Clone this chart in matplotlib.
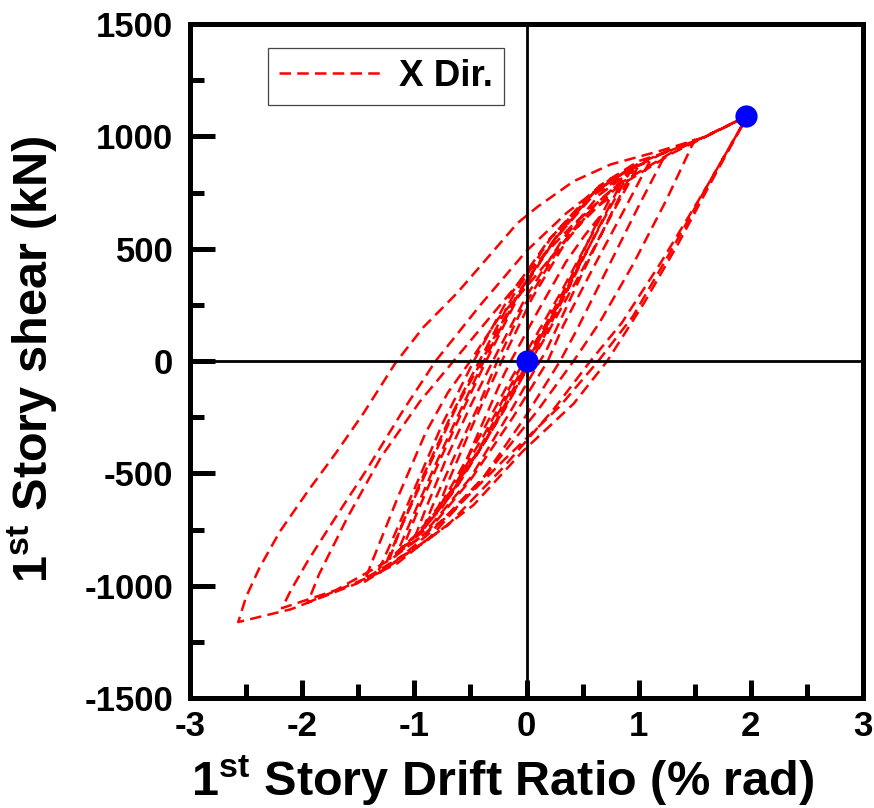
import matplotlib
matplotlib.use('Agg')
import matplotlib.pyplot as plt
from matplotlib.ticker import MultipleLocator

# ---------------- data ----------------
# small, narrow loops around the origin (drift in % rad, shear in kN)
drift_band = [0.0, 0.18, 0.35, 0.5,
              0.38, 0.2, 0.0, -0.2, -0.42, -0.6,
              -0.5, -0.35, -0.2, -0.14, 0.1, 0.35, 0.52, 0.65,
              0.5, 0.28, 0.0, -0.12, -0.38, -0.66, -0.9,
              -0.8, -0.62, -0.42, -0.26, -0.05, 0.25, 0.5, 0.75,
              0.58, 0.3, 0.0, -0.15, -0.4, -0.65, -0.8,
              -0.7, -0.52, -0.35, -0.22, 0.05, 0.35, 0.62, 0.85,
              0.66, 0.38, 0.05, -0.12, -0.42, -0.75, -1.0,
              -0.9, -0.72, -0.5, -0.3, 0.0, 0.32, 0.65, 0.95,
              0.75, 0.45, 0.17, 0.12, -0.15, -0.5, -0.85, -1.1,
              -0.98, -0.78, -0.55, -0.36, -0.08, 0.25, 0.6, 0.9, 1.1,
              0.9, 0.6, 0.33, 0.19, -0.12, -0.5, -0.9, -1.24,
              -1.1, -0.88, -0.62, -0.4, -0.1, 0.25, 0.6, 0.92,
              0.72, 0.42, 0.1, -0.08, -0.35, -0.68, -1.0, -1.22,
              -1.12, -0.92, -0.68, -0.42, -0.12, 0.22, 0.58, 0.8, 1.0,
              0.8, 0.48, 0.15, -0.05, -0.3, -0.62, -0.92, -1.15,
              -1.03, -0.82, -0.58, -0.38, -0.05, 0.3, 0.65, 1.0, 1.25,
              1.0, 0.7, 0.45, 0.3, 0.0, -0.4, -0.85, -1.15, -1.33]
shear_band = [0, 170, 330, 460,
              330, 150, -40, -220, -400, -520,
              -400, -230, -60, 0, 220, 440, 560, 640,
              480, 250, 20, -90, -330, -570, -720,
              -600, -400, -190, 0, 220, 470, 640, 730,
              560, 300, 40, -90, -320, -540, -670,
              -540, -330, -140, 0, 280, 530, 700, 800,
              610, 330, 40, -110, -390, -650, -790,
              -660, -440, -200, 0, 290, 540, 740, 850,
              650, 340, 40, 0, -230, -520, -730, -830,
              -680, -450, -200, 0, 280, 540, 750, 850, 890,
              700, 420, 160, 0, -250, -530, -770, -885,
              -720, -480, -200, 0, 280, 540, 740, 840,
              660, 380, 80, -90, -340, -600, -780, -880,
              -740, -510, -250, 0, 290, 550, 750, 820, 870,
              690, 390, 90, -80, -300, -560, -750, -850,
              -710, -470, -210, 0, 320, 580, 780, 890, 930,
              690, 390, 140, 0, -240, -530, -780, -900, -945]

# medium loops
drift_mid = [-1.2, -1.0, -0.75, -0.47, -0.15, 0.2, 0.6, 1.0, 1.5,
             1.25, 0.95, 0.65, 0.42, 0.1, -0.35, -0.85, -1.2, -1.45,
             -1.35, -1.15, -0.9, -0.7, -0.5, -0.25, 0.0, 0.4, 0.8, 1.3, 1.97,
             1.6, 1.2, 0.85, 0.57, 0.25, -0.2, -0.7, -1.3, -1.95,
             -1.85, -1.6, -1.3, -0.95, -0.65, -0.3, 0.0, 0.4, 0.8, 1.3, 1.97]
shear_mid = [-800, -570, -280, 0, 290, 540, 750, 880, 985,
             720, 430, 170, 0, -220, -500, -760, -905, -985,
             -860, -610, -320, -140, 0, 190, 330, 570, 770, 925, 1090,
             770, 440, 170, 0, -210, -470, -730, -940, -1075,
             -950, -700, -430, -180, 0, 210, 390, 600, 780, 930, 1090]

# largest loops
drift_outer = [1.65, 1.35, 1.05, 0.72, 0.42, -0.03, -0.47, -0.92, -1.51, -2.1, -2.57,
               -2.5, -2.38, -2.2, -1.95, -1.7, -1.45, -1.17, -0.92, -0.62, -0.35, -0.08,
               0.1, 0.42, 0.75, 1.19, 1.58, 1.97,
               1.6, 1.3, 0.95, 0.64, 0.3, -0.2, -0.7, -1.2, -1.7, -2.18,
               -2.1, -1.95, -1.72, -1.42, -1.1, -0.81, -0.41, 0.0, 0.36, 0.75, 1.2, 1.6, 1.97]
shear_outer = [800, 520, 260, 0, -190, -400, -640, -811, -990, -1105, -1162,
               -1050, -920, -760, -580, -410, -230, -10, 150, 302, 458, 614,
               687, 800, 875, 935, 995, 1092,
               770, 500, 200, 0, -200, -440, -690, -880, -1020, -1100,
               -1020, -890, -710, -480, -220, 0, 250, 490, 660, 810, 920, 1000, 1090]

# highlighted points
dot_drift = [0.0, 1.96]
dot_shear = [0, 1090]

x_ticks = [-3, -2, -1, 0, 1, 2, 3]
y_ticks = [-1500, -1000, -500, 0, 500, 1000, 1500]

# ---------------- style ----------------
plt.rcParams['font.family'] = ['Liberation Sans', 'DejaVu Sans']
plt.rcParams['font.weight'] = 'bold'
plt.rcParams['axes.unicode_minus'] = False
plt.rcParams['mathtext.fontset'] = 'custom'
plt.rcParams['mathtext.bf'] = 'Liberation Sans:bold'
plt.rcParams['mathtext.rm'] = 'Liberation Sans:bold'

fig = plt.figure(figsize=(8.74, 8.08), dpi=100)
ax = fig.add_axes([190 / 874, 1 - 698 / 808, 673 / 874, 674 / 808])

drift = drift_band + drift_mid + drift_outer
shear = shear_band + shear_mid + shear_outer
ax.plot(drift, shear, color='red', lw=1.8, linestyle=(0, (4.6, 2.5)),
        label='X Dir.', zorder=2)

ax.axhline(0, color='black', lw=2, zorder=3)
ax.axvline(0, color='black', lw=2, zorder=3)

ax.plot(dot_drift, dot_shear, 'o', color='#0000FF', markersize=16,
        markeredgewidth=0, zorder=5)

ax.set_xlim(-3, 3)
ax.set_ylim(-1500, 1500)
ax.set_xticks(x_ticks)
ax.set_yticks(y_ticks)
ax.xaxis.set_minor_locator(MultipleLocator(0.5))
ax.yaxis.set_minor_locator(MultipleLocator(250))

for s in ax.spines.values():
    s.set_linewidth(3.6)

ax.tick_params(which='both', direction='in', top=False, right=False,
               width=3.6, colors='black')
ax.tick_params(axis='x', which='major', length=13, pad=9, labelsize=25)
ax.tick_params(axis='x', which='minor', length=10)
ax.tick_params(axis='y', which='major', length=18, pad=12, labelsize=25)
ax.tick_params(axis='y', which='minor', length=10)

leg = ax.legend(loc='upper left', bbox_to_anchor=((268 - 190) / 673, (698 - 48) / 674),
                borderaxespad=0, fontsize=26.5, handlelength=2.85,
                handletextpad=0.4, borderpad=0.3, fancybox=False,
                framealpha=1, edgecolor='#444444')
leg.get_frame().set_linewidth(0.9)

fig.text(503 / 874, 1 - 796 / 808, r'$\mathbf{1^{st}}$ Story Drift Ratio (% rad)',
         fontsize=35, ha='center', va='baseline', fontweight='bold')
fig.text(33 / 874, 1 - 359 / 808, r'$\mathbf{1^{st}}$ Story shear (kN)',
         fontsize=35, ha='center', va='center', rotation=90, fontweight='bold')

fig.savefig('out.png', dpi=100)
